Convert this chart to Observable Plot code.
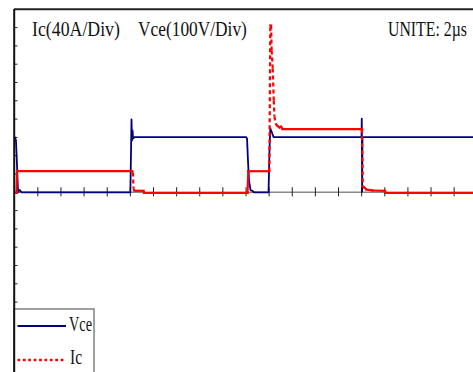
<!DOCTYPE html>
<html><head><meta charset="utf-8">
<script src="https://cdn.jsdelivr.net/npm/d3@7"></script>
<script src="https://cdn.jsdelivr.net/npm/@observablehq/plot@0.6"></script>
<style>html,body{margin:0;padding:0;background:#fff;overflow:hidden} svg{display:block}</style>
</head><body><div id="chart"></div>
<script>
// ---- data (time in µs, Vce in V, Ic in A) ----
const vceTime = [0.03,0.11,0.20,0.29,0.42,0.59,10.00,10.06,10.10,10.14,10.19,10.23,10.36,20.00,20.09,20.17,20.26,20.39,20.56,20.69,21.95,22.03,22.10,22.21,22.38,29.99,30.01,30.04,30.07,40];
const vceValue = [300,283,146,0,13,0,0,228,398,283,338,294,302,302,294,174,64,13,7,0,0,228,349,332,302,302,403,4,302,302];
const icTime = [0.03,0.16,0.20,10.14,10.23,10.27,10.36,11.14,11.18,20.13,20.20,22.02,22.10,22.17,22.22,22.31,22.40,22.46,22.55,22.72,22.90,23.03,23.16,30.03,30.10,30.25,30.42,30.94,32.02,32.06,40];
const icValue = [-1.1,-1.1,46.1,46.1,43.3,8.3,3.3,3.3,-1.5,-1.5,46.1,46.1,364.6,364.6,310,270.6,200.7,165.7,150.4,145,141.6,143.8,137.9,137.9,12.7,9.8,6.1,3.9,3.3,-1.5,-1.5];
const xTicks = [2,4,6,8,10,12,14,16,18,20,22,24,26,28,30,32,34,36,38];
const yTicks = [-9,-8,-7,-6,-5,-4,-3,-2,-1,1,2,3,4,5,6,7,8,9];
const titleLabels = ["Ic(40A/Div)", "Vce(100V/Div)"];
const unitLabel = "UNITE: 2µs";
const seriesNames = ["Vce", "Ic"];
const IC_PER_DIV = 40, VCE_PER_DIV = 100;

// ---- layout ----
const W = 473, H = 372;
const xDomain = [0, 40], yDomain = [-10, 10];
const xRange = [14.2, 476.8], yRange = [374.8, 8.8];
const BLUE = "#000080", RED = "#ff0000";
const FONT = "'Liberation Serif', 'Times New Roman', serif";

const vceData = vceTime.map((t, i) => ({t, v: vceValue[i] / VCE_PER_DIV}));
const icData = icTime.map((t, i) => ({t, v: icValue[i] / IC_PER_DIV}));

const sx = d3.scaleLinear(xDomain, xRange), sy = d3.scaleLinear(yDomain, yRange);
const icSegs = d3.pairs(icData).map(([a, b]) => {
  const dx = Math.abs(sx(b.t) - sx(a.t)), dyPx = sy(b.v) - sy(a.v);
  const steep = Math.abs(dyPx) > dx;
  return {x1: a.t, y1: a.v, x2: b.t, y2: b.v, dashed: steep && (dyPx > 0 || Math.abs(dyPx) > 40)};
});

const plot = Plot.plot({
  width: W, height: H,
  marginLeft: 14, marginRight: 0, marginTop: 9, marginBottom: 0,
  x: {domain: xDomain, range: xRange, axis: null},
  y: {domain: yDomain, range: yRange, axis: null},
  style: {background: "#fff", overflow: "hidden"},
  marks: [
    Plot.ruleY(yTicks, {x1: 0, x2: 0.28, stroke: "#222", strokeWidth: 1}),
    Plot.ruleY([0], {stroke: "#888", strokeWidth: 1.6}),
    Plot.ruleX(xTicks, {y1: -0.25, y2: 0.25, stroke: "#222", strokeWidth: 1}),
    Plot.line(vceData, {x: "t", y: "v", stroke: BLUE, strokeWidth: 1.8}),
    Plot.link(icSegs.filter(d => !d.dashed), {x1: "x1", y1: "y1", x2: "x2", y2: "y2", stroke: RED, strokeWidth: 2.2, strokeLinecap: "square"}),
    Plot.link(icSegs.filter(d => d.dashed), {x1: "x1", y1: "y1", x2: "x2", y2: "y2", stroke: RED, strokeWidth: 2.2, strokeDasharray: "4,3"}),
    Plot.ruleY([10], {stroke: "#222", strokeWidth: 2})
  ]
});
document.getElementById("chart").append(plot);

const svg = d3.select(plot);
// condensed text helper: scale horizontally to the wanted width
function condensedText(parent, s, x, y, len, size) {
  const g = parent.append("g");
  const t = g.append("text").text(s).attr("x", 0).attr("y", 0)
    .attr("text-anchor", "start").attr("font-family", FONT)
    .attr("font-size", size).attr("fill", "#111");
  const natural = t.node().getComputedTextLength();
  g.attr("transform", `translate(${x},${y}) scale(${len / natural},1)`);
}
// legend box
const lg = svg.append("g");
lg.append("rect").attr("x", 14).attr("y", 309).attr("width", 80).attr("height", 80)
  .attr("fill", "#fff").attr("stroke", "#808080").attr("stroke-width", 1.5);
lg.append("line").attr("x1", 17.5).attr("x2", 66).attr("y1", 326).attr("y2", 326)
  .attr("stroke", BLUE).attr("stroke-width", 2);
lg.append("line").attr("x1", 17.5).attr("x2", 64).attr("y1", 360).attr("y2", 360)
  .attr("stroke", RED).attr("stroke-width", 2.6).attr("stroke-dasharray", "2.7,2.7");
condensedText(lg, seriesNames[0], 69, 331, 23, 20);
condensedText(lg, seriesNames[1], 70, 364, 12, 20);
// left axis line on top
svg.append("line").attr("x1", sx(0)).attr("x2", sx(0)).attr("y1", 9).attr("y2", H)
  .attr("stroke", "#111").attr("stroke-width", 2);
// titles
condensedText(svg, titleLabels[0], 32, 35.5, 88, 21);
condensedText(svg, titleLabels[1], 138, 35.5, 109, 21);
condensedText(svg, unitLabel, 388, 35.5, 79, 21);
</script></body></html>
